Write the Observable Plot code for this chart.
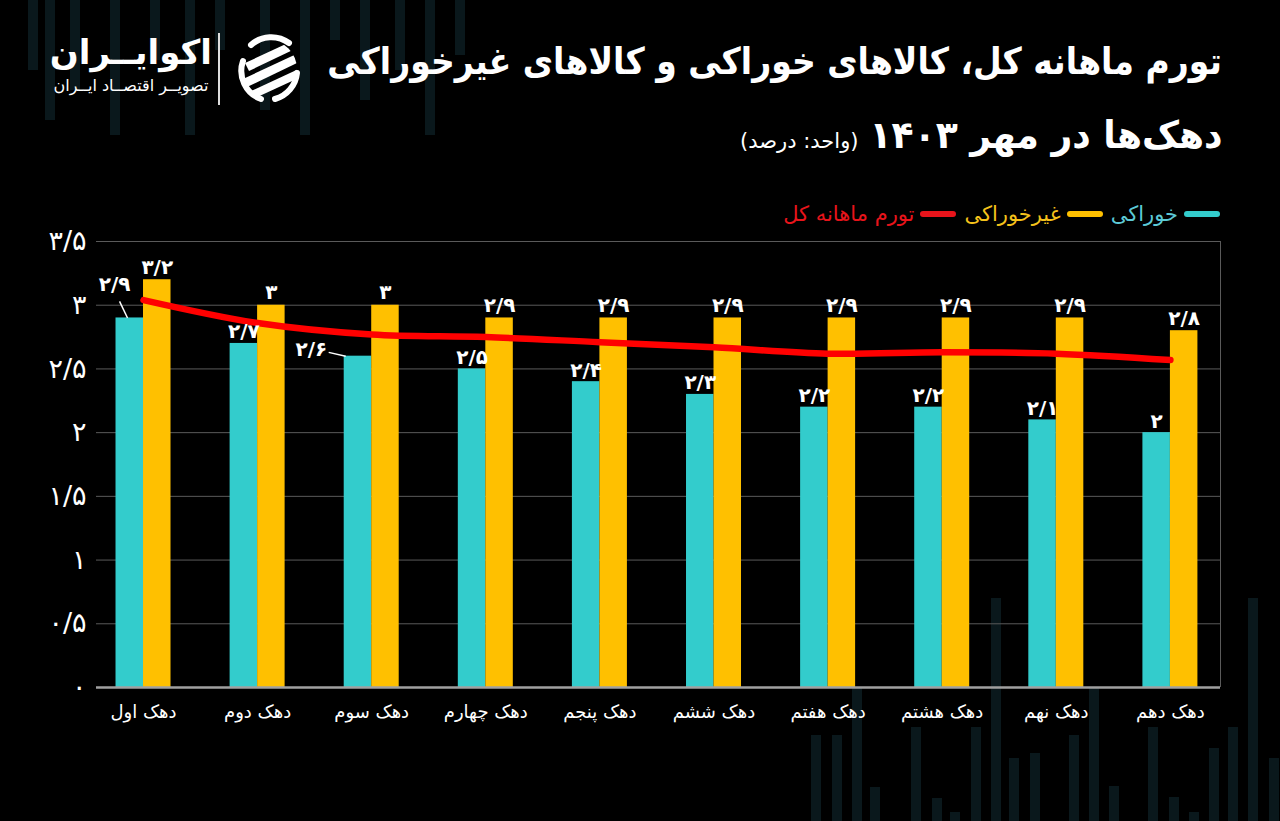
<!DOCTYPE html>
<html>
<head>
<meta charset="utf-8">
<script src="https://cdn.jsdelivr.net/npm/d3@7"></script>
<script src="https://cdn.jsdelivr.net/npm/@observablehq/plot@0.6"></script>
<style>
  html, body { margin:0; padding:0; background:#000; }
  body { width:1280px; height:821px; overflow:hidden; position:relative; font-family:"DejaVu Sans", sans-serif; color:#fff; }
  #bg { position:absolute; left:0; top:0; width:1280px; height:821px; }
  .title1 { position:absolute; right:58px; top:40px; direction:rtl; font-weight:bold; font-size:37px; white-space:nowrap; transform:scaleX(0.893); transform-origin:right center; }
  .title2 { position:absolute; right:58px; top:113px; direction:rtl; white-space:nowrap; }
  .title2 .big { font-weight:bold; font-size:38px; display:inline-block; transform:scaleX(0.95); transform-origin:right center; }
  .title2 .unit { font-size:21px; display:inline-block; margin-right:-8px; }
  .legend { position:absolute; right:60px; top:202px; direction:rtl; display:flex; align-items:center; font-size:21px; white-space:nowrap; }
  .legend .item { display:flex; align-items:center; margin-left:8px; }
  .legend .sw { width:36px; height:6px; border-radius:3px; margin-left:6px; }
  .logo { position:absolute; left:50px; top:32px; direction:rtl; text-align:center; width:162px; }
  .logo .name { font-weight:bold; font-size:34px; line-height:40px; white-space:nowrap; }
  .logo .sub { font-size:16px; white-space:nowrap; margin-top:4px; }
  .sep { position:absolute; left:218px; top:33px; width:2px; height:72px; background:#ddd; }
  #icon { position:absolute; left:231px; top:33px; }
  #chart { position:absolute; left:0; top:200px; }
</style>
</head>
<body>
<svg id="bg" width="1280" height="821"></svg>
<div class="logo"><div class="name">اکوایــران</div><div class="sub">تصویــر اقتصــاد ایــران</div></div>
<div class="sep"></div>
<svg id="icon" width="74" height="72" viewBox="0 0 74 72">
  <defs><clipPath id="cc"><circle cx="37" cy="36" r="29"/></clipPath></defs>
  <path d="M 20 12 A 30 30 0 0 1 58 10" fill="none" stroke="#fff" stroke-width="6" stroke-linecap="round"/>
  <path d="M 12 28 A 30 30 0 0 0 30 66" fill="none" stroke="#fff" stroke-width="6" stroke-linecap="round"/>
  <path d="M 66 40 A 30 30 0 0 1 44 66" fill="none" stroke="#fff" stroke-width="6" stroke-linecap="round"/>
  <g clip-path="url(#cc)" fill="#fff">
    <polygon points="14,30 70,4 72,12 18,38"/>
    <polygon points="12,46 72,18 72,27 16,54"/>
    <polygon points="16,60 72,34 72,43 22,66"/>
  </g>
</svg>
<div class="title1">تورم ماهانه کل، کالاهای خوراکی و کالاهای غیرخوراکی</div>
<div class="title2"><span class="big">دهک‌ها در مهر ۱۴۰۳</span><span class="unit">(واحد: درصد)</span></div>
<div class="legend">
  <div class="item"><span class="sw" style="background:#33CCCC"></span><span style="color:#5CC9D6">خوراکی</span></div>
  <div class="item"><span class="sw" style="background:#FFC000"></span><span style="color:#F5C21B">غیرخوراکی</span></div>
  <div class="item"><span class="sw" style="background:#E8141B"></span><span style="color:#E8141B">تورم ماهانه کل</span></div>
</div>
<div id="chart"></div>
<script>
// ---- data ----
const categories = ["دهک اول","دهک دوم","دهک سوم","دهک چهارم","دهک پنجم","دهک ششم","دهک هفتم","دهک هشتم","دهک نهم","دهک دهم"];
const foodValues = [2.9, 2.7, 2.6, 2.5, 2.4, 2.3, 2.2, 2.2, 2.1, 2.0];
const nonFoodValues = [3.2, 3.0, 3.0, 2.9, 2.9, 2.9, 2.9, 2.9, 2.9, 2.8];
const totalValues = [3.04, 2.86, 2.77, 2.75, 2.71, 2.67, 2.62, 2.63, 2.62, 2.57];
const yTicks = [0, 0.5, 1, 1.5, 2, 2.5, 3, 3.5];

// ---- background decoration ----
(function(){
  const bg = d3.select("#bg");
  const tops = [[28,0,70],[45,0,120],[70,0,90],[110,0,135],[150,0,60],[185,0,135],[215,0,50],[260,0,110],[300,0,135],[330,0,40],[360,0,100],[395,0,70],[425,0,135],[455,0,55]];
  tops.forEach(([x,h]) => {});
  tops.forEach(([x,y,h]) => bg.append("rect").attr("x",x).attr("y",y).attr("width",10).attr("height",h).attr("fill","#0a181c"));
  const bots = [[811,735],[832,735],[852,687],[870,787],[911,727],[932,798],[950,812],[971,727],[991,598],[1009,758],[1030,753],[1069,735],[1089,687],[1109,786],[1148,727],[1169,797],[1189,812],[1209,748],[1228,727],[1248,598],[1269,758]];
  bots.forEach(([x,y]) => bg.append("rect").attr("x",x).attr("y",y).attr("width",10).attr("height",821-y).attr("fill","#0a181c"));
})();

// ---- chart ----
const fa = v => String(v).replace(/\d/g, d => "۰۱۲۳۴۵۶۷۸۹"[d]).replace(".", "/");
const data = categories.map((c, i) => ({i, c, food: foodValues[i], nonFood: nonFoodValues[i], total: totalValues[i]}));
const teal = "#33CCCC", yellow = "#FFC000", red = "#FF0000";
const bw = 0.241;              // bar width in band units
const xDomain = [-0.412, 9.439];

const plot = Plot.plot({
  width: 1280,
  height: 560,
  marginTop: 41,
  marginBottom: 73,
  marginLeft: 96,
  marginRight: 60,
  style: {background: "transparent", fontFamily: "DejaVu Sans, sans-serif", color: "#fff"},
  x: {type: "linear", domain: xDomain, axis: null, label: null},
  y: {domain: [0, 3.5], axis: null, label: null},
  marks: [
    Plot.gridY(yTicks.filter(d => d > 0), {stroke: "#5a5a5a", strokeOpacity: 1, strokeWidth: 1}),
    Plot.ruleX([xDomain[1]], {stroke: "#5a5a5a", strokeWidth: 1}),
    Plot.rectY(data, {x1: d => d.i - bw, x2: d => d.i, y1: 0, y2: "food", fill: teal}),
    Plot.rectY(data, {x1: d => d.i, x2: d => d.i + bw, y1: 0, y2: "nonFood", fill: yellow}),
    Plot.ruleY([0], {stroke: "#a0a0a0", strokeWidth: 2.5}),
    Plot.line(data, {x: "i", y: "total", stroke: red, strokeWidth: 6.5, curve: "catmull-rom"}),
    // value labels
    Plot.text(data, {x: d => d.i + bw / 2, y: "nonFood", text: d => fa(d.nonFood), dy: -6, lineAnchor: "bottom", fill: "#fff", fontSize: 20, fontWeight: "bold"}),
    Plot.text(data.filter(d => d.i !== 0 && d.i !== 2), {x: d => d.i - bw / 2, y: "food", text: d => fa(d.food), dy: -5, lineAnchor: "bottom", fill: "#fff", fontSize: 20, fontWeight: "bold"}),
    Plot.text(data.filter(d => d.i === 0), {x: d => d.i - 0.254, y: "food", text: d => fa(d.food), dy: -27, lineAnchor: "bottom", fill: "#fff", fontSize: 20, fontWeight: "bold"}),
    Plot.text(data.filter(d => d.i === 2), {x: d => d.i - 0.39, y: "food", text: d => fa(d.food), dy: -7, textAnchor: "end", lineAnchor: "middle", fill: "#fff", fontSize: 20, fontWeight: "bold"}),
    Plot.link(data.filter(d => d.i === 0), {x1: d => d.i - 0.21, y1: d => d.food + 0.13, x2: d => d.i - 0.14, y2: "food", stroke: "#fff", strokeWidth: 1.5}),
    Plot.link(data.filter(d => d.i === 2), {x1: d => d.i - 0.377, y1: d => d.food + 0.03, x2: d => d.i - 0.228, y2: "food", stroke: "#fff", strokeWidth: 1.5}),
    // axes
    Plot.axisY(yTicks, {tickSize: 0, tickPadding: 10, tickFormat: fa, fontSize: 27, fill: "#fff", label: null}),
    Plot.axisX(d3.range(10), {tickSize: 0, tickPadding: 18, tickFormat: i => categories[i], fontSize: 18, fill: "#fff", label: null})
  ]
});
document.getElementById("chart").appendChild(plot);
</script>
</body>
</html>
